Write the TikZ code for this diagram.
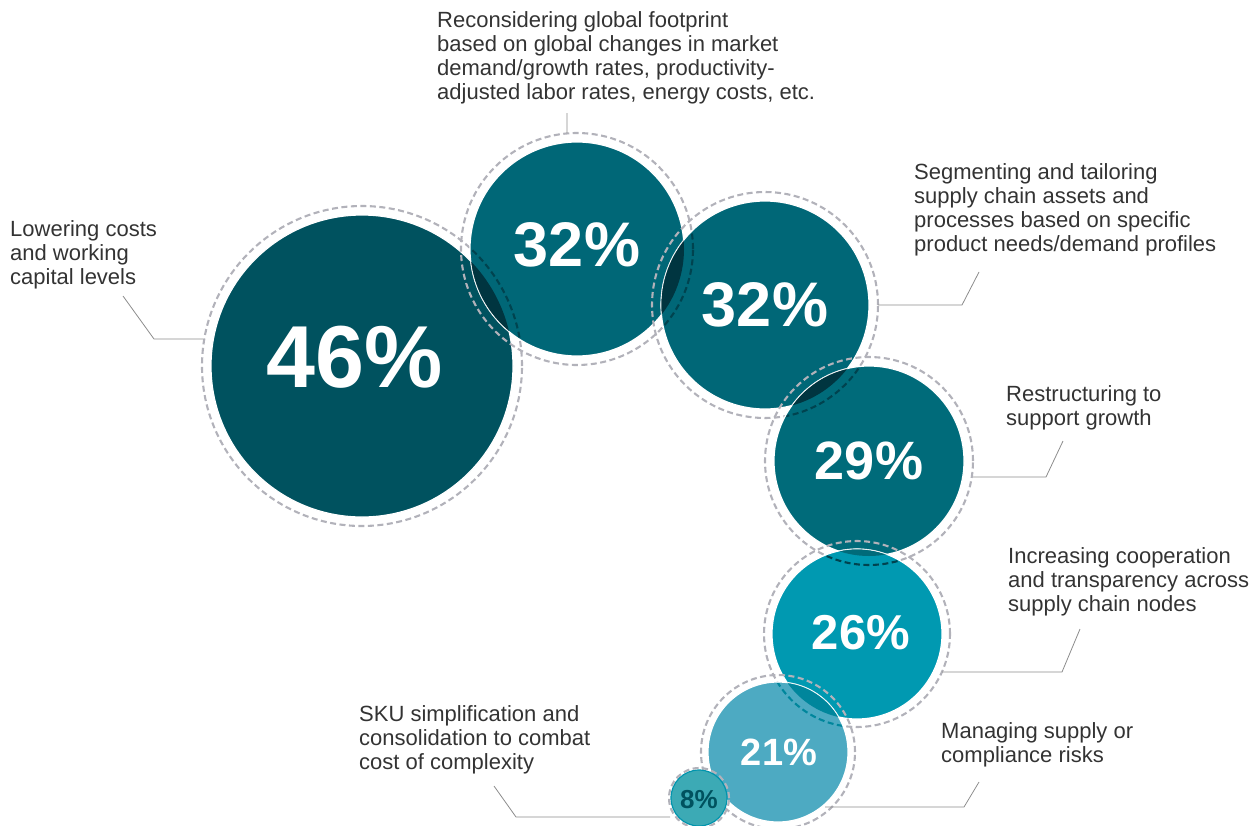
\documentclass[tikz,border=0pt]{standalone}
\usepackage{fontspec}
\setmainfont{Liberation Sans}
\definecolor{cA}{HTML}{00525F}
\definecolor{cB}{HTML}{006777}
\definecolor{cC}{HTML}{006B7A}
\definecolor{cD}{HTML}{0099B1}
\definecolor{cE}{HTML}{4DAAC2}
\definecolor{cF}{HTML}{3CAAB5}
\definecolor{cFedge}{HTML}{0094AD}
\definecolor{lensdark}{HTML}{003540}
\definecolor{lenslight}{HTML}{00869C}
\definecolor{ringgray}{HTML}{B2B2BA}
\definecolor{ringdark}{HTML}{00434F}
\definecolor{leadgray}{HTML}{8C8C8C}
\definecolor{txtgray}{HTML}{333333}
\tikzset{
  disk/.style={fill=#1,draw=white,line width=1.2pt},
  ring/.style={draw=ringgray,line width=2.1pt,dash pattern=on 6pt off 3.5pt},
  lens/.style={fill=#1,draw=white,line width=.6pt},
  lead/.style={draw=leadgray,line width=.8pt},
  pct/.style={text=white,font=\bfseries\fontsize{#1}{#1}\selectfont},
  txt/.style={text=txtgray,align=left,inner sep=0pt,anchor=base west,
    font=\fontsize{22}{24}\selectfont}
}
\begin{document}
\begin{tikzpicture}[x=1pt,y=-1pt]
	\useasboundingbox (0,0) rectangle (1258,825);
	\path
	(362,366) coordinate (A)
	(577,249) coordinate (B)
	(765,305) coordinate (C)
	(869,461) coordinate (D)
	(857,634) coordinate (E)
	(778,752) coordinate (F)
	(699,798) coordinate (G);
	% circles, each over the one before
	\draw[disk=cA] (A) circle(151pt);
	\draw[ring] (A) circle(160pt);
	\draw[disk=cB] (B) circle(107pt);
	\begin{scope}\clip (B) circle(106pt); \draw[ring,draw=ringdark] (A) circle(160pt);\end{scope}
	\begin{scope}\clip (A) circle(151pt); \draw[lens=lensdark] (B) circle(107pt);\end{scope}
	\draw[ring] (B) circle(116pt);
	\draw[disk=cB] (C) circle(104pt);
	\begin{scope}\clip (C) circle(103pt); \draw[ring,draw=ringdark] (B) circle(116pt);\end{scope}
	\begin{scope}\clip (B) circle(107pt); \draw[lens=lensdark] (C) circle(104pt);\end{scope}
	\draw[ring] (C) circle(113pt);
	\draw[disk=cC] (D) circle(95pt);
	\begin{scope}\clip (D) circle(94pt); \draw[ring,draw=ringdark] (C) circle(113pt);\end{scope}
	\begin{scope}\clip (C) circle(104pt); \draw[lens=lensdark] (D) circle(95pt);\end{scope}
	\draw[ring] (D) circle(104pt);
	\draw[disk=cD] (E) circle(85pt);
	\begin{scope}\clip (E) circle(84pt); \draw[ring,draw=ringdark] (D) circle(104pt);\end{scope}
	\begin{scope}\clip (D) circle(95pt); \draw[lens=cC] (E) circle(85pt);\end{scope}
	\draw[ring] (E) circle(93pt);
	\draw[disk=cE] (F) circle(70pt);
	\begin{scope}\clip (F) circle(69pt); \draw[ring,draw=lenslight] (E) circle(93pt);\end{scope}
	\begin{scope}\clip (E) circle(85pt); \draw[lens=lenslight] (F) circle(70pt);\end{scope}
	\draw[ring] (F) circle(77pt);
	\draw[fill=cF,draw=cFedge,line width=1.2pt] (G) circle(28pt);
	\draw[ring] (G) circle(30pt);
	% values
	\node[pct=88] (vA) at (355,357) {46\%};
	\node[pct=63] (vB) at (577,245) {32\%};
	\node[pct=63] (vC) at (765,305) {32\%};
	\node[pct=54] (vD) at (869,461) {29\%};
	\node[pct=49] (vE) at (861,633) {26\%};
	\node[pct=38] (vF) at (779,752) {21\%};
	\node[pct=26,text=cA] (vG) at (699,800) {8\%};
	% labels (anchored at the last line)
	\node[txt] (tA) at (10,284) {Lowering costs\\and working\\capital levels};
	\node[txt] (tB) at (437,99) {Reconsidering global footprint\\based on global changes in market\\demand/growth rates, productivity-\\adjusted labor rates, energy costs, etc.};
	\node[txt] (tC) at (914,251) {Segmenting and tailoring\\supply chain assets and\\processes based on specific\\product needs/demand profiles};
	\node[txt] (tD) at (1006,425) {Restructuring to\\support growth};
	\node[txt] (tE) at (1008,611) {Increasing cooperation\\and transparency across\\supply chain nodes};
	\node[txt] (tF) at (941,762) {Managing supply or\\compliance risks};
	\node[txt] (tG) at (359,769) {SKU simplification and\\consolidation to combat\\cost of complexity};
	% leaders
	\path
	(203,339) coordinate (pA) (154,339) coordinate (kA) (123,296) coordinate (qA)
	(567,133) coordinate (pB) (567,113) coordinate (qB)
	(878,305) coordinate (pC) (962,305) coordinate (kC) (979,272) coordinate (qC)
	(973,477) coordinate (pD) (1046,477) coordinate (kD) (1063,441) coordinate (qD)
	(942,672) coordinate (pE) (1062,672) coordinate (kE) (1080,629) coordinate (qE)
	(825,807) coordinate (pF) (964,807) coordinate (kF) (979,782) coordinate (qF)
	(670,817) coordinate (pG) (516,817) coordinate (kG) (494,786) coordinate (qG);
	\draw[lead] (pA)--(kA)--(qA) (pB)--(qB);
	\foreach \p in {C,D,E,F,G} \draw[lead] (p\p)--(k\p)--(q\p);
\end{tikzpicture}
\end{document}
